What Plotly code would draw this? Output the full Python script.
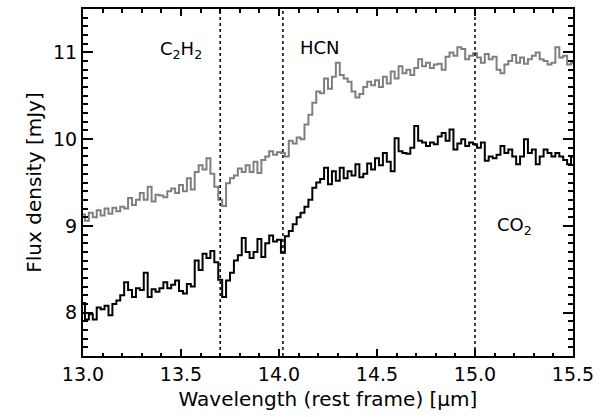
import plotly.graph_objects as go

wavelength = [
    13.00, 13.02, 13.04, 13.06, 13.08, 13.10, 13.12, 13.14, 13.16, 13.18,
    13.20, 13.22, 13.24, 13.26, 13.28, 13.30, 13.32, 13.34, 13.36, 13.38,
    13.40, 13.42, 13.44, 13.46, 13.48, 13.50, 13.52, 13.54, 13.56, 13.58,
    13.60, 13.62, 13.64, 13.66, 13.68, 13.70, 13.72, 13.74, 13.76, 13.78,
    13.80, 13.82, 13.84, 13.86, 13.88, 13.90, 13.92, 13.94, 13.96, 13.98,
    14.00, 14.02, 14.04, 14.06, 14.08, 14.10, 14.12, 14.14, 14.16, 14.18,
    14.20, 14.22, 14.24, 14.26, 14.28, 14.30, 14.32, 14.34, 14.36, 14.38,
    14.40, 14.42, 14.44, 14.46, 14.48, 14.50, 14.52, 14.54, 14.56, 14.58,
    14.60, 14.62, 14.64, 14.66, 14.68, 14.70, 14.72, 14.74, 14.76, 14.78,
    14.80, 14.82, 14.84, 14.86, 14.88, 14.90, 14.92, 14.94, 14.96, 14.98,
    15.00, 15.02, 15.04, 15.06, 15.08, 15.10, 15.12, 15.14, 15.16, 15.18,
    15.20, 15.22, 15.24, 15.26, 15.28, 15.30, 15.32, 15.34, 15.36, 15.38,
    15.40, 15.42, 15.44, 15.46, 15.48, 15.50,
]

flux_gray = [
    9.13, 9.06, 9.15, 9.10, 9.18, 9.12, 9.20, 9.14, 9.21, 9.17,
    9.22, 9.20, 9.32, 9.24, 9.30, 9.38, 9.30, 9.45, 9.28, 9.36,
    9.35, 9.33, 9.40, 9.43, 9.38, 9.47, 9.40, 9.55, 9.42, 9.62,
    9.70, 9.65, 9.78, 9.60, 9.45, 9.30, 9.23, 9.49, 9.55, 9.58,
    9.66, 9.62, 9.70, 9.62, 9.74, 9.61, 9.76, 9.80, 9.86, 9.82,
    9.85, 9.84, 9.80, 9.98, 9.95, 10.02, 10.00, 10.17, 10.28, 10.42,
    10.55, 10.53, 10.70, 10.58, 10.72, 10.88, 10.74, 10.70, 10.66, 10.55,
    10.48, 10.52, 10.60, 10.66, 10.62, 10.68, 10.60, 10.72, 10.64, 10.78,
    10.70, 10.84, 10.76, 10.80, 10.74, 10.82, 10.92, 10.84, 10.88, 10.82,
    10.86, 10.87, 10.80, 10.95, 11.00, 10.96, 11.06, 11.04, 10.92, 10.96,
    10.99, 10.94, 10.88, 10.98, 10.92, 10.95, 10.80, 10.76, 10.86, 10.90,
    10.97, 10.88, 10.94, 10.87, 10.92, 10.96, 11.00, 10.92, 10.90, 10.86,
    10.88, 11.06, 10.94, 10.96, 10.86, 10.88,
]

flux_black = [
    8.11, 7.92, 7.98, 7.92, 8.06, 8.04, 8.08, 7.97, 8.10, 8.14,
    8.20, 8.35, 8.26, 8.18, 8.28, 8.26, 8.46, 8.18, 8.27, 8.24,
    8.28, 8.35, 8.28, 8.32, 8.37, 8.25, 8.22, 8.33, 8.30, 8.60,
    8.49, 8.68, 8.63, 8.71, 8.58, 8.38, 8.18, 8.37, 8.46, 8.60,
    8.66, 8.86, 8.70, 8.63, 8.70, 8.85, 8.64, 8.80, 8.89, 8.82,
    8.84, 8.69, 8.88, 8.94, 9.02, 9.10, 9.15, 9.22, 9.30, 9.44,
    9.50, 9.54, 9.67, 9.48, 9.63, 9.52, 9.67, 9.55, 9.63, 9.58,
    9.71, 9.56, 9.60, 9.72, 9.65, 9.78, 9.70, 9.84, 9.74, 9.63,
    10.01, 9.86, 9.84, 9.83, 9.90, 10.15, 9.98, 9.96, 9.92, 9.96,
    9.94, 10.03, 10.07, 9.98, 10.11, 9.88, 9.95, 10.00, 9.92, 9.96,
    9.94, 9.90, 9.96, 9.75, 9.80, 9.78, 9.82, 9.92, 9.84, 9.88,
    9.80, 9.71, 9.80, 10.00, 9.84, 9.88, 9.71, 9.80, 9.88, 9.84,
    9.80, 9.84, 9.80, 9.76, 9.71, 9.80,
]

line_positions = [13.70, 14.02, 15.00]
label_texts = ["C<sub>2</sub>H<sub>2</sub>", "HCN", "CO<sub>2</sub>"]
label_x = [13.50, 14.21, 15.20]
label_y = [11.03, 11.06, 9.00]

x_ticks = [13.0, 13.5, 14.0, 14.5, 15.0, 15.5]
y_ticks = [8, 9, 10, 11]

FONT = "DejaVu Sans, Verdana, sans-serif"

fig = go.Figure()
fig.add_trace(go.Scatter(x=wavelength, y=flux_gray, mode="lines", line_shape="hvh",
                         line=dict(color="#7f7f7f", width=2), showlegend=False))
fig.add_trace(go.Scatter(x=wavelength, y=flux_black, mode="lines", line_shape="hvh",
                         line=dict(color="black", width=2), showlegend=False))

for xv in line_positions:
    fig.add_shape(type="line", xref="x", yref="paper", x0=xv, x1=xv, y0=0, y1=1,
                  line=dict(color="black", width=1.5, dash="dot"))

for t, xv, yv in zip(label_texts, label_x, label_y):
    fig.add_annotation(x=xv, y=yv, text=t, showarrow=False,
                       font=dict(family=FONT, size=18, color="black"))

fig.update_xaxes(range=[13.0, 15.5], tickvals=x_ticks, ticktext=[f"{v:.1f}" for v in x_ticks],
                 ticks="inside", ticklen=7, tickwidth=1.5, tickcolor="black",
                 minor=dict(dtick=0.1, ticks="inside", ticklen=3.5, tickwidth=1.5, tickcolor="black"),
                 showline=True, linecolor="black", linewidth=2, mirror="ticks",
                 showgrid=False, zeroline=False,
                 tickfont=dict(family=FONT, size=19, color="black"),
                 title=dict(text="Wavelength (rest frame) [μm]", standoff=8,
                            font=dict(family=FONT, size=20, color="black")))
fig.update_yaxes(range=[7.5, 11.5], tickvals=y_ticks,
                 ticks="inside", ticklen=10, tickwidth=1.5, tickcolor="black",
                 minor=dict(dtick=0.1, ticks="inside", ticklen=5, tickwidth=1.5, tickcolor="black"),
                 showline=True, linecolor="black", linewidth=2, mirror="ticks",
                 showgrid=False, zeroline=False,
                 tickfont=dict(family=FONT, size=19, color="black"),
                 title=dict(text="Flux density [mJy]", standoff=6,
                            font=dict(family=FONT, size=20, color="black")))

fig.update_layout(width=612, height=417, margin=dict(l=83, r=39, t=7, b=61),
                  paper_bgcolor="white", plot_bgcolor="white")

fig.write_html("out.html")
